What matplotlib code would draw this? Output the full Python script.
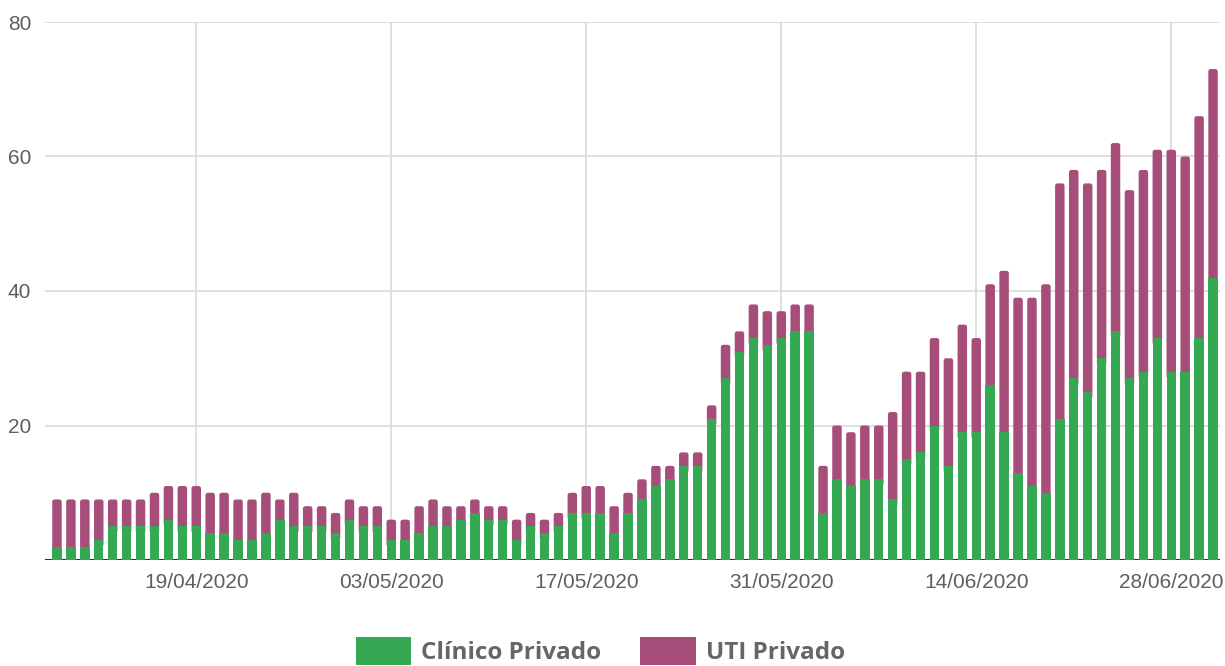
import matplotlib
matplotlib.use("Agg")
import matplotlib.pyplot as plt
import numpy as np
import pandas as pd
from matplotlib.patches import Patch, FancyBboxPatch

# ---- data ----
dates = pd.date_range("2020-04-09", periods=84, freq="D").strftime("%d/%m/%Y").tolist()

clinico_privado = [2, 2, 2, 3, 5, 5, 5, 5, 6, 5, 5, 4, 4, 3, 3, 4, 6, 5, 5, 5, 4,
                   6, 5, 5, 3, 3, 4, 5, 5, 6, 7, 6, 6, 3, 5, 4, 5, 7, 7, 7, 4,
                   7, 9, 11, 12, 14, 14, 21, 27, 31, 33, 32, 33, 34, 34, 7, 12, 11, 12, 12,
                   9, 15, 16, 20, 14, 19, 19, 26, 19, 13, 11, 10,
                   21, 27, 25, 30, 34, 27, 28, 33, 28, 28, 33, 42]

uti_privado = [7, 7, 7, 6, 4, 4, 4, 5, 5, 6, 6, 6, 6, 6, 6, 6, 3, 5, 3, 3, 3,
               3, 3, 3, 3, 3, 4, 4, 3, 2, 2, 2, 2, 3, 2, 2, 2, 3, 4, 4, 4,
               3, 3, 3, 2, 2, 2, 2, 5, 3, 5, 5, 4, 4, 4, 7, 8, 8, 8, 8,
               13, 13, 12, 13, 16, 16, 14, 15, 24, 26, 28, 31,
               35, 31, 31, 28, 28, 28, 30, 28, 33, 32, 33, 31]

tick_labels = ["19/04/2020", "03/05/2020", "17/05/2020", "31/05/2020", "14/06/2020", "28/06/2020"]
y_ticks = [20, 40, 60, 80]

series_names = ["Clínico Privado", "UTI Privado"]
colors = ["#34a853", "#a64d79"]

# ---- figure ----
fig = plt.figure(figsize=(12.25, 6.66), dpi=100)
ax = fig.add_axes([45 / 1225, 1 - 560 / 666, (1220 - 45) / 1225, (560 - 22) / 666])

x = np.arange(len(dates))
ax.bar(x, clinico_privado, width=0.68, color=colors[0], zorder=3, linewidth=0)
top_bars = ax.bar(x, uti_privado, bottom=clinico_privado, width=0.68,
                  color=colors[1], zorder=3, linewidth=0)

ax.set_xlim(-0.86, len(dates) - 0.5)
ax.set_ylim(0, 80)

# rounded tops for the stacked (top) series, derived from the bar geometry
for r in top_bars:
    bx, by, bw, bh = r.get_x(), r.get_y(), r.get_width(), r.get_height()
    r.set_visible(False)
    p = FancyBboxPatch((bx, by - 1), bw, bh + 1,
                       boxstyle="round,pad=0,rounding_size=0.17",
                       mutation_aspect=2.07, facecolor=colors[1],
                       edgecolor="none", zorder=2.6)
    ax.add_patch(p)

tick_pos = [dates.index(t) for t in tick_labels]
ax.set_xticks(tick_pos)
ax.set_xticklabels(tick_labels, fontfamily="Liberation Sans", fontsize=15, color="#5f5f5f")
ax.set_yticks(y_ticks)
ax.set_yticklabels([str(v) for v in y_ticks], fontfamily="Liberation Sans", fontsize=15, color="#5f5f5f")
ax.tick_params(axis="both", length=0)
ax.tick_params(axis="x", pad=9)
ax.tick_params(axis="y", pad=10)

ax.grid(True, color="#d9d9d9", linewidth=1.2, zorder=0)
ax.set_axisbelow(True)
for s in ax.spines.values():
    s.set_visible(False)
ax.axhline(0, color="#333333", linewidth=1.5, zorder=2)

handles = [Patch(facecolor=c, edgecolor="none") for c in colors]
leg = fig.legend(handles, series_names, loc="center", bbox_to_anchor=(0.49, 0.022),
                 ncol=2, frameon=False, handlelength=2.3, handleheight=1.4,
                 handletextpad=0.4, columnspacing=1.6,
                 prop={"family": "Open Sans", "weight": "bold", "size": 17.5})
for t in leg.get_texts():
    t.set_color("#666666")

fig.savefig("out.png", dpi=100)
